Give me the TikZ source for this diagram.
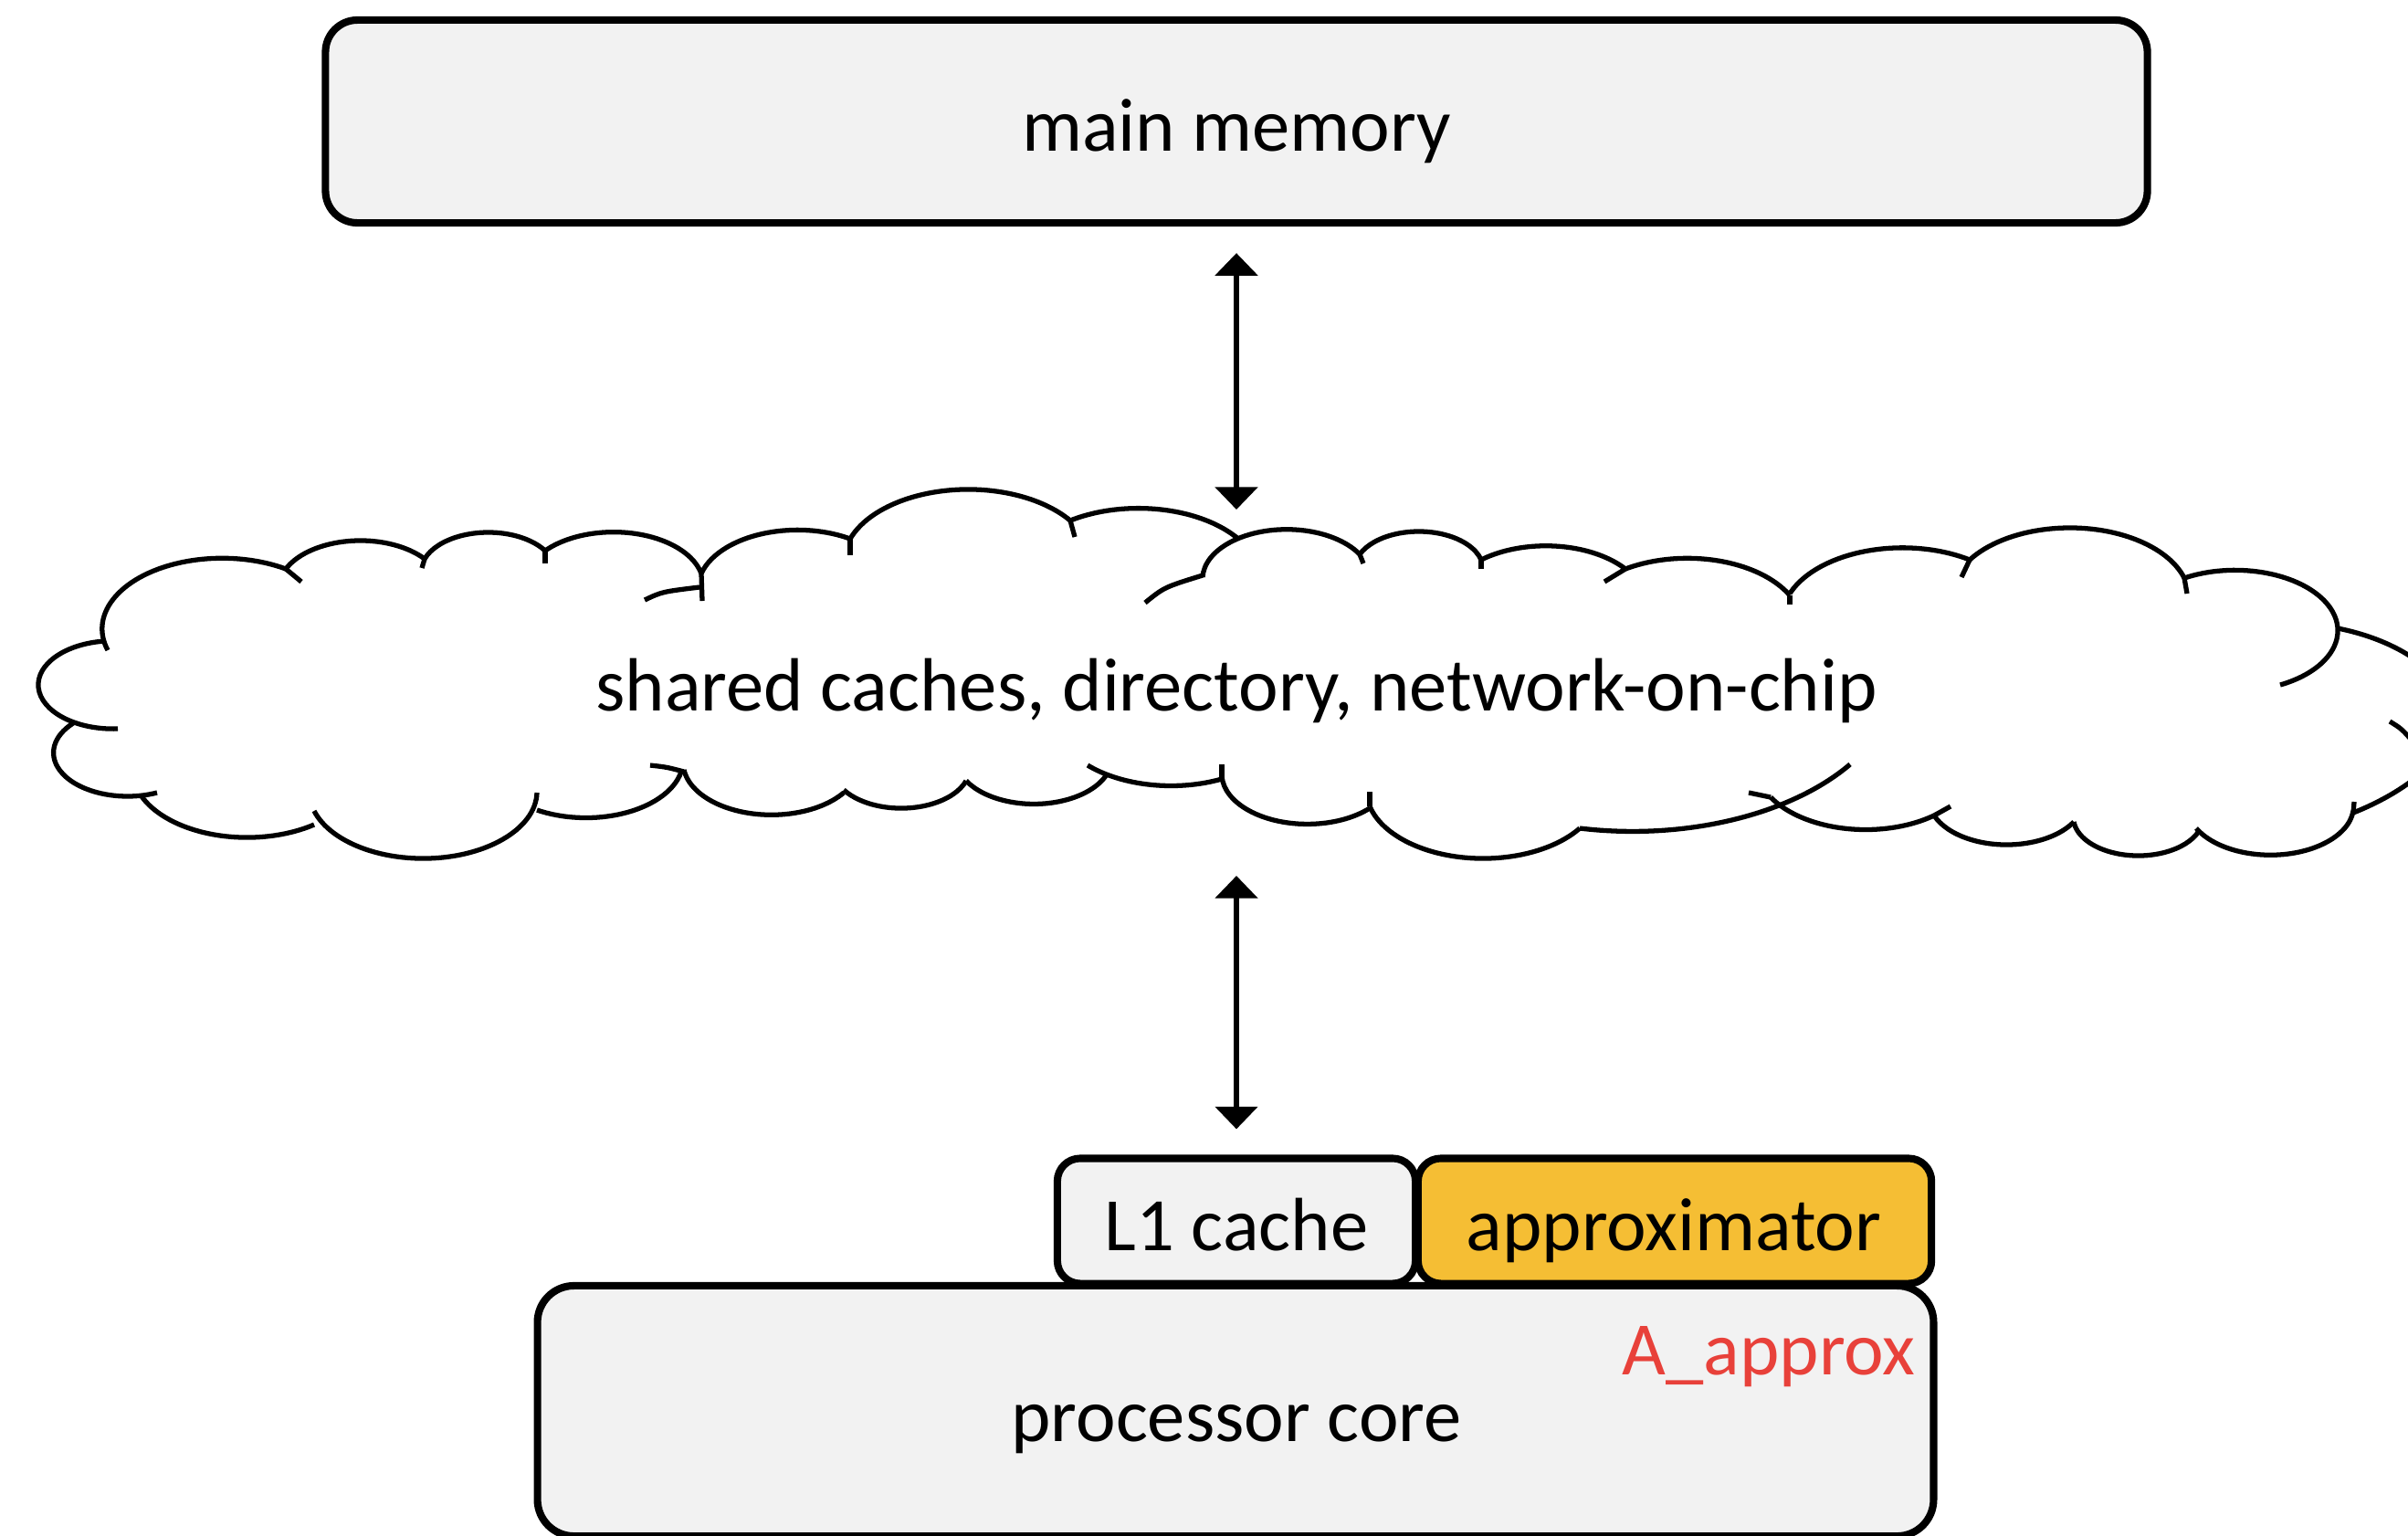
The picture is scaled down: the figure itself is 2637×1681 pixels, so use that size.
\documentclass[tikz,border=0pt]{standalone}
\usepackage{fontspec}
\setmainfont{Carlito}
\usetikzlibrary{arrows.meta}
\definecolor{boxfill}{HTML}{F2F2F2}
\definecolor{gold}{HTML}{F5BE34}
\definecolor{redtxt}{HTML}{E8413A}
\def\cbk{1.7}
% elliptic arc (x:y = cbk) from S through P to E (pixel coordinates)
\newcommand\cbump[6]{%
 \pgfmathsetmacro\cbbx{(#3-#1)/100}\pgfmathsetmacro\cbby{(#4-#2)*\cbk/100}%
 \pgfmathsetmacro\cbcx{(#5-#1)/100}\pgfmathsetmacro\cbcy{(#6-#2)*\cbk/100}%
 \pgfmathsetmacro\cbd{2*(\cbbx*\cbcy-\cbcx*\cbby)}%
 \pgfmathsetmacro\cbbb{\cbbx*\cbbx+\cbby*\cbby}\pgfmathsetmacro\cbcc{\cbcx*\cbcx+\cbcy*\cbcy}%
 \pgfmathsetmacro\cbux{(\cbcy*\cbbb-\cbby*\cbcc)/\cbd}%
 \pgfmathsetmacro\cbuy{(\cbbx*\cbcc-\cbcx*\cbbb)/\cbd}%
 \pgfmathsetmacro\cbr{100*sqrt(\cbux*\cbux+\cbuy*\cbuy)}%
 \pgfmathsetmacro\cbry{\cbr/\cbk}%
 \pgfmathsetmacro\cbaA{atan2(-\cbuy,-\cbux)}%
 \pgfmathsetmacro\cbaB{atan2(\cbby-\cbuy,\cbbx-\cbux)}%
 \pgfmathsetmacro\cbaC{atan2(\cbcy-\cbuy,\cbcx-\cbux)}%
 \pgfmathsetmacro\cbdB{Mod(\cbaB-\cbaA,360)}\pgfmathsetmacro\cbdC{Mod(\cbaC-\cbaA,360)}%
 \pgfmathsetmacro\cbaE{\cbdB<\cbdC ? \cbaA+\cbdC : \cbaA-(360-\cbdC)}%
 \draw[cl] (#1,#2) arc[start angle=\cbaA, end angle=\cbaE, x radius=\cbr, y radius=\cbry];}
\begin{document}
\begin{tikzpicture}[x=0.01cm,y=-0.01cm,
  box/.style={draw, line width=2.3pt, fill=boxfill, rounded corners=#1, inner sep=0pt},
  txt/.style={font=\fontsize{23.5}{28}\selectfont, inner sep=0pt},
  cl/.style={line width=1.5pt, line join=round},
  arr/.style={line width=1.8pt, {Triangle[length=7pt,width=13pt]}-{Triangle[length=7pt,width=13pt]}}]
\useasboundingbox (0,0) rectangle (2637,1681);
% ---- cloud ----
% top
\cbump{118}{712}{225}{612}{313}{623}
\cbump{313}{623}{393}{592}{465}{612}
\cbump{465}{612}{533}{583}{597}{603}
\cbump{597}{603}{683}{583}{768}{628}
\cbump{768}{628}{858}{581}{931}{590}
\cbump{931}{590}{1055}{536}{1172}{570}
\cbump{1172}{570}{1260}{557}{1356}{590}
\cbump{1317}{632}{1400}{580}{1489}{607}
\cbump{1489}{607}{1552}{582}{1622}{613}
\cbump{1622}{613}{1703}{598}{1780}{623}
\cbump{1780}{623}{1865}{612}{1960}{652}
\cbump{1960}{650}{2075}{600}{2157}{613}
\cbump{2157}{613}{2268}{578}{2392}{633}
\cbump{2392}{633}{2560}{688}{2497}{750}
\cbump{2560}{688}{2637}{717}{2690}{800}
\cbump{2690}{800}{2637}{858}{2577}{890}
\draw[cl] (2617,790) .. controls (2630,798) .. (2645,815);
% bottom
\cbump{2577}{888}{2477}{936}{2405}{907}
\cbump{2408}{910}{2340}{937}{2271}{900}
\cbump{2271}{900}{2196}{925}{2118}{893}
\cbump{2118}{893}{2029}{908}{1939}{873}
\cbump{2026}{837}{1808}{910}{1730}{907}
\cbump{1730}{907}{1620}{940}{1500}{883}
\cbump{1500}{885}{1420}{902}{1338}{850}
\cbump{1338}{853}{1268}{860}{1191}{838}
\cbump{1212}{848}{1121}{880}{1058}{855}
\cbump{1058}{855}{990}{885}{924}{865}
\cbump{924}{868}{835}{892}{749}{843}
\cbump{746}{845}{655}{895}{588}{887}
\cbump{588}{868}{459}{940}{344}{888}
\cbump{344}{903}{265}{917}{155}{872}
\cbump{172}{868}{62}{838}{80}{792}
\cbump{129}{798}{42}{752}{115}{702}
% stubs
\draw[cl] (313,623) -- (330,637);
\draw[cl] (465,612) -- (462,622);
\draw[cl] (597,603) -- (597,617);
\draw[cl] (768,628) -- (769,658);
\draw[cl] (706,657) .. controls (725,648) .. (766,643);
\draw[cl] (931,590) -- (931,608);
\draw[cl] (1172,570) -- (1177,588);
\draw[cl] (1254,660) .. controls (1275,643) .. (1317,630);
\draw[cl] (1489,607) -- (1493,617);
\draw[cl] (1622,613) -- (1622,623);
\draw[cl] (1780,623) -- (1757,637);
\draw[cl] (1960,652) -- (1960,662);
\draw[cl] (2157,613) -- (2148,632);
\draw[cl] (2392,633) -- (2395,650);
\draw[cl] (2577,890) -- (2578,878);
\draw[cl] (2136,883) -- (2118,893);
\draw[cl] (1915,868) -- (1939,873);
\draw[cl] (1500,867) -- (1500,883);
\draw[cl] (1338,837) -- (1338,853);
\draw[cl] (712,838) .. controls (730,840) .. (749,845);
\node[txt, anchor=base] (cloud) at (1354,778) {shared caches, directory, network-on-chip};
% ---- boxes ----
\node[box=0.35cm, minimum width=19.94cm, minimum height=2.22cm] (mm) at (1354,133) {};
\node[txt, anchor=base] (mmt) at (1354,165) {main memory};
\node[box=0.4cm, minimum width=15.28cm, minimum height=2.74cm] (pc) at (1353,1545) {};
\node[txt, anchor=base] (pct) at (1354,1578) {processor core};
\node[box=0.25cm, minimum width=3.92cm, minimum height=1.37cm] (l1) at (1354,1337) {};
\node[txt, anchor=base] (l1t) at (1354,1369) {L1 cache};
\node[box=0.25cm, fill=gold, minimum width=5.62cm, minimum height=1.37cm] (ap) at (1834,1337) {};
\node[txt, anchor=base] (apt) at (1833,1369) {approximator};
\node[txt, text=redtxt, anchor=base east] (aa) at (2098,1505) {A\_approx};
% ---- arrows ----
\coordinate (c1) at (1354,558);
\coordinate (c2) at (1354,959);
\draw[arr] ([yshift=-0.29cm]mm.south) -- (c1);
\draw[arr] (c2) -- ([yshift=0.28cm]l1.north);
\end{tikzpicture}
\end{document}
